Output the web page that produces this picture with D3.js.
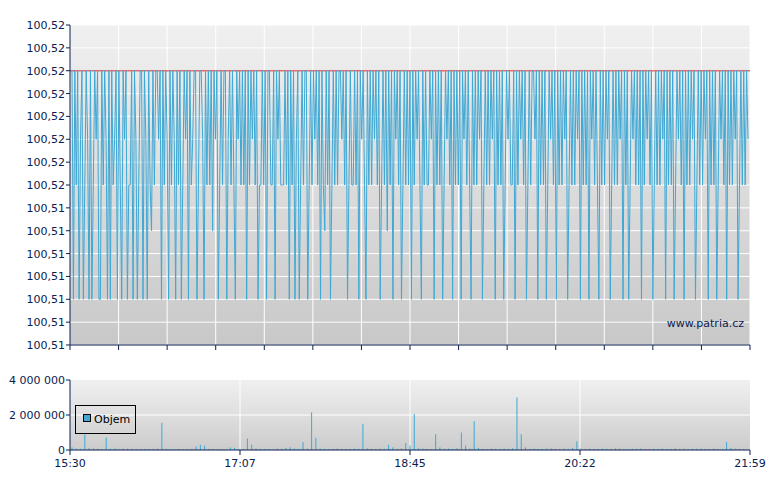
<!DOCTYPE html><html><head><meta charset="utf-8"><script src="https://cdn.jsdelivr.net/npm/d3@7"></script>
<style>body{margin:0;background:#fff}text{font-family:"DejaVu Sans",Verdana,sans-serif}</style></head><body><svg id="c" width="780" height="490"></svg>
<script>
const priceLevels={T:100.521,n:100.5195,a:100.518,b:100.516,m:100.514,L:100.511};
const priceCodes=("TLTbTLaTLbTaLTLbTaTLLTbTaLTLTbaTLTbLTaTLbbTLTaLbTTLTaLTbmTbTTaTLTbTaLTbTaLTbTLbTaTLTbaTTLbTTaLTbTbTmTaTLbTbTTLaTbTbLTa"+
"TbTbTLTbTaTbTLbbTbTLTTbbTLTaTbbbTbTLTbTLaTLbTbTTLbTbTaTbTLTbmTbTLbTbTbTTaTbTLbTbbTbTLTaTbLTbTbTaTbTLbTbTmTbTLTaTbTLbTbTb"+
"TLTbTaTbLTbTbbTaTLTbTbTLbTaTbTLTbTbTLTaTbTbLTbTbTaTLbTbTbTaTLTbTbTLbTaTbbTLTbTaTbTLbTbTTaTLTbTbTLbTaTbTLTbTbTaTLbTbTbT"+
"aTLTbTbTLTaTbTbLTbTbTaTLbTbTbTaTLTbTLbTaTbTbTLTbTaTbTLbTbTbTaTLTbTbTLbTaTbTLTbTbTaTLbTbTbTaTLTbTbTLbTaTbTLTbTbTaTLbTbTbTa").split("");
const volumes=[150e3,80e3,60e3,900e3,120e3,90e3,70e3,50e3,700e3,60e3,90e3,40e3,80e3,70e3,60e3,50e3,40e3,60e3,50e3,70e3,80e3,1550e3,60e3,40e3,30e3,50e3,40e3,30e3,60e3,200e3,300e3,250e3,60e3,40e3,50e3,30e3,40e3,150e3,120e3,60e3,50e3,650e3,300e3,80e3,60e3,50e3,40e3,30e3,80e3,60e3,120e3,150e3,80e3,60e3,450e3,80e3,2150e3,700e3,80e3,60e3,50e3,60e3,80e3,50e3,40e3,60e3,80e3,50e3,1500e3,90e3,60e3,50e3,80e3,60e3,300e3,150e3,60e3,80e3,400e3,250e3,2050e3,90e3,80e3,60e3,50e3,900e3,150e3,60e3,80e3,50e3,100e3,1000e3,250e3,80e3,1650e3,120e3,60e3,50e3,80e3,60e3,50e3,80e3,60e3,100e3,3000e3,900e3,150e3,60e3,80e3,50e3,60e3,80e3,90e3,60e3,50e3,80e3,60e3,120e3,500e3,90e3,60e3,80e3,50e3,60e3,80e3,50e3,60e3,90e3,80e3,60e3,50e3,60e3,80e3,90e3,60e3,50e3,70e3,60e3,80e3,50e3,60e3,90e3,60e3,80e3,50e3,60e3,70e3,80e3,60e3,50e3,80e3,60e3,50e3,450e3,120e3,80e3,60e3,50e3];
const priceTickLabels=["100,52","100,52","100,52","100,52","100,52","100,52","100,52","100,52","100,51","100,51","100,51","100,51","100,51","100,51","100,51"];
const timeLabels=["15:30","17:07","18:45","20:22","21:59"];
const prices=priceCodes.map(c=>priceLevels[c]);
const svg=d3.select("#c");
const X0=70,X1=750;
const defs=svg.append("defs");
function grad(id,c0,c1){const g=defs.append("linearGradient").attr("id",id).attr("x1",0).attr("y1",0).attr("x2",0).attr("y2",1);g.append("stop").attr("offset",0).attr("stop-color",c0);g.append("stop").attr("offset",1).attr("stop-color",c1);}
grad("g1","#f0f0f0","#c8c8c8");grad("g2","#f0f0f0","#cccccc");
const navy="#0a2050";
const y=d3.scaleLinear().domain([100.509,100.523]).range([345,25]);
const x=d3.scaleLinear().domain([0,prices.length-1]).range([X0+2,X1-2]);
svg.append("rect").attr("x",X0).attr("y",25).attr("width",X1-X0).attr("height",320).attr("fill","url(#g1)");
const yt=d3.range(15).map(i=>100.509+i*0.001);
svg.append("g").selectAll("line").data(yt).join("line").attr("x1",X0).attr("x2",X1).attr("y1",d=>y(d)).attr("y2",d=>y(d)).attr("stroke","#fff");
const xg=d3.scaleLinear().domain([0,14]).range([X0,X1]);
svg.append("g").selectAll("line").data(d3.range(1,15)).join("line").attr("x1",d=>xg(d)).attr("x2",d=>xg(d)).attr("y1",25).attr("y2",345).attr("stroke","#fff");
svg.append("line").attr("x1",X0).attr("x2",X1).attr("y1",y(100.521)).attr("y2",y(100.521)).attr("stroke","#e07070").attr("stroke-width",1.5);
svg.append("path").datum(prices).attr("d",d3.line().x((d,i)=>x(i)).y(d=>y(d))).attr("fill","none").attr("stroke","#3fa8d4").attr("stroke-width",1);
svg.append("line").attr("x1",X0).attr("x2",X0).attr("y1",25).attr("y2",345).attr("stroke",navy);
svg.append("line").attr("x1",X0).attr("x2",X1).attr("y1",345).attr("y2",345).attr("stroke",navy);
svg.append("g").selectAll("line").data(d3.range(0,15)).join("line").attr("x1",d=>xg(d)).attr("x2",d=>xg(d)).attr("y1",345).attr("y2",350).attr("stroke",navy);
svg.append("g").selectAll("text").data(yt.slice().reverse()).join("text").attr("x",X0-5).attr("y",d=>y(d)+4).attr("text-anchor","end").attr("font-size",11).attr("fill",navy).text((d,i)=>priceTickLabels[i]);
svg.append("g").selectAll("line").data(yt).join("line").attr("x1",X0-4).attr("x2",X0).attr("y1",d=>y(d)).attr("y2",d=>y(d)).attr("stroke",navy);
svg.append("text").attr("x",744).attr("y",327).attr("text-anchor","end").attr("font-size",11).attr("fill","#0a2050").text("www.patria.cz");
const yv=d3.scaleLinear().domain([0,4e6]).range([450,380]);
const xv=d3.scaleLinear().domain([0,volumes.length]).range([X0+2,X1-2]);
svg.append("rect").attr("x",X0).attr("y",380).attr("width",X1-X0).attr("height",70).attr("fill","url(#g2)");
svg.append("g").selectAll("line").data([2e6]).join("line").attr("x1",X0).attr("x2",X1).attr("y1",d=>yv(d)).attr("y2",d=>yv(d)).attr("stroke","#fff");
const xt=d3.scaleLinear().domain([0,4]).range([X0,X1]);
svg.append("g").selectAll("line").data([1,2,3]).join("line").attr("x1",d=>xt(d)).attr("x2",d=>xt(d)).attr("y1",380).attr("y2",450).attr("stroke","#fff");
svg.append("g").selectAll("line.v").data(volumes).join("line").attr("x1",(d,i)=>xv(i)).attr("x2",(d,i)=>xv(i)).attr("y1",450).attr("y2",d=>yv(d)).attr("stroke","#3fa8d4");
svg.append("line").attr("x1",X0).attr("x2",X0).attr("y1",380).attr("y2",450).attr("stroke",navy);
svg.append("line").attr("x1",X0).attr("x2",X1).attr("y1",450).attr("y2",450).attr("stroke",navy);
[0,2e6,4e6].forEach((v,i)=>{svg.append("line").attr("x1",X0-4).attr("x2",X0).attr("y1",yv(v)).attr("y2",yv(v)).attr("stroke",navy);
svg.append("text").attr("x",X0-5).attr("y",yv(v)+4).attr("text-anchor","end").attr("font-size",11).attr("fill",navy).text(["0","2 000 000","4 000 000"][i]);});
timeLabels.forEach((t,i)=>{svg.append("line").attr("x1",xt(i)).attr("x2",xt(i)).attr("y1",450).attr("y2",455).attr("stroke",navy);
svg.append("text").attr("x",xt(i)).attr("y",467).attr("text-anchor","middle").attr("font-size",11).attr("fill",navy).text(t);});
svg.append("rect").attr("x",75.5).attr("y",405.5).attr("width",60).attr("height",28).attr("fill","none").attr("stroke","#000");
svg.append("rect").attr("x",83.5).attr("y",414.5).attr("width",7).attr("height",7).attr("fill","#3fa8d4").attr("stroke","#000");
svg.append("text").attr("x",94).attr("y",423).attr("font-size",11).attr("fill","#000").text("Objem");
</script></body></html>
